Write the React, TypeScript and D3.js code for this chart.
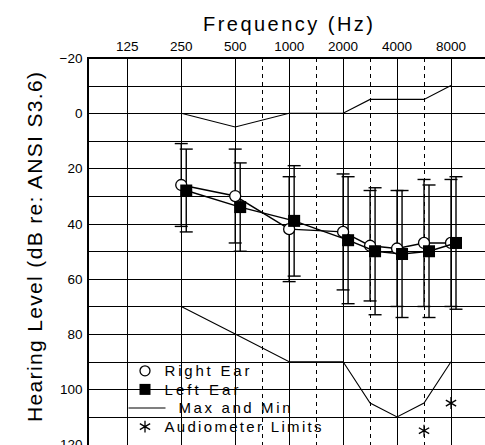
import React, { useEffect, useRef } from 'react';
import * as d3 from 'd3';

// audiogram data (dB HL)
const frequencies = [250, 500, 1000, 2000, 3000, 4000, 6000, 8000];
const rightEar = [26, 30, 42, 43, 48, 49, 47, 47];
const rightTop = [11, 13, 23, 22, 28, 28, 24, 24];
const rightBottom = [41, 47, 61, 64, 68, 70, 70, 70];
const leftEar = [28, 34, 39, 46, 50, 51, 50, 47];
const leftTop = [13, 18, 19, 23, 27, 28, 26, 23];
const leftBottom = [43, 50, 59, 69, 73, 74, 74, 71];
const maxLevels = [0, 5, 0, 0, -5, -5, -5, -10];
const minLevels = [70, 80, 90, 90, 105, 110, 105, 90];
const limitFreqs = [6000, 8000];
const limitLevels = [115, 105];

const octaveTicks = [125, 250, 500, 1000, 2000, 4000, 8000];
const halfOctaveTicks = [750, 1500, 3000, 6000];
const levelTicks = [-20, 0, 20, 40, 60, 80, 100, 120];
const legendLabels = ['Right Ear', 'Left Ear', 'Max and Min', 'Audiometer Limits'];

const width = 485;
const height = 445;
const font = '"Liberation Sans", Arial, sans-serif';

export default function App() {
  const ref = useRef<SVGSVGElement>(null);

  useEffect(() => {
    const svg = d3.select(ref.current);
    svg.selectAll('*').remove();

    // position in octaves above 125 Hz, half octaves sit midway
    const octave = (f: number) => Math.round(2 * Math.log2(f / 125)) / 2;
    const x = d3.scaleLinear().domain([0, 6]).range([127.3, 451]);
    const fx = (f: number) => x(octave(f));
    const y = d3.scaleLinear().domain([-20, 120]).range([58, 444.5]);

    const left = 88;
    const right = 492;
    const top = y(-20);
    const bottom = height + 2;
    const offset = 5; // left ear drawn a bit to the right

    svg.append('rect').attr('width', width).attr('height', height).attr('fill', '#fff');

    const grid = svg.append('g').attr('stroke', '#000').attr('fill', 'none');

    // horizontal grid every 10 dB
    grid
      .selectAll('line.h')
      .data(d3.range(-10, 121, 10))
      .join('line')
      .attr('x1', left)
      .attr('x2', right)
      .attr('y1', d => Math.round(y(d)) + 0.5)
      .attr('y2', d => Math.round(y(d)) + 0.5)
      .attr('stroke-width', 1);

    grid
      .selectAll('line.v')
      .data(octaveTicks)
      .join('line')
      .attr('x1', d => Math.round(fx(d)) + 0.5)
      .attr('x2', d => Math.round(fx(d)) + 0.5)
      .attr('y1', top)
      .attr('y2', bottom)
      .attr('stroke-width', 1);

    grid
      .selectAll('line.d')
      .data(halfOctaveTicks)
      .join('line')
      .attr('x1', d => Math.round(fx(d)) + 0.5)
      .attr('x2', d => Math.round(fx(d)) + 0.5)
      .attr('y1', top)
      .attr('y2', bottom)
      .attr('stroke-width', 1)
      .attr('stroke-dasharray', '4,4');

    // frame
    grid.append('line').attr('x1', left).attr('x2', right).attr('y1', top).attr('y2', top).attr('stroke-width', 2);
    grid.append('line').attr('x1', left).attr('x2', left).attr('y1', top - 1).attr('y2', bottom).attr('stroke-width', 2);

    // tick labels
    svg
      .append('g')
      .selectAll('text')
      .data(octaveTicks)
      .join('text')
      .attr('x', d => fx(d))
      .attr('y', 50.5)
      .attr('text-anchor', 'middle')
      .attr('font-family', font)
      .attr('font-size', 13.5)
      .text(d => d);

    svg
      .append('g')
      .selectAll('text')
      .data(levelTicks)
      .join('text')
      .attr('x', 82.5)
      .attr('y', d => y(d))
      .attr('dy', '0.36em')
      .attr('text-anchor', 'end')
      .attr('font-family', font)
      .attr('font-size', 13.5)
      .text(d => (d < 0 ? '\u2212' + Math.abs(d) : d));

    // titles
    svg
      .append('text')
      .attr('x', 203)
      .attr('y', 30.7)
      .attr('font-family', font)
      .attr('font-size', 20)
      .attr('textLength', 170)
      .attr('lengthAdjust', 'spacing')
      .text('Frequency (Hz)');

    svg
      .append('text')
      .attr('transform', 'translate(41.5,422) rotate(-90)')
      .attr('font-family', font)
      .attr('font-size', 21)
      .attr('textLength', 350)
      .attr('lengthAdjust', 'spacing')
      .text('Hearing Level (dB re: ANSI S3.6)');

    // max and min
    const line = d3
      .line<number>()
      .x((d, i) => fx(frequencies[i]))
      .y(d => y(d));
    svg.append('path').datum(maxLevels).attr('d', line).attr('fill', 'none').attr('stroke', '#000').attr('stroke-width', 1.1);
    svg.append('path').datum(minLevels).attr('d', line).attr('fill', 'none').attr('stroke', '#000').attr('stroke-width', 1.1);

    // error bars
    const bars = (tops: number[], bottoms: number[], dx: number) => {
      const g = svg.append('g').attr('stroke', '#000').attr('stroke-width', 1.4);
      frequencies.forEach((f, i) => {
        const cx = fx(f) + dx;
        g.append('line').attr('x1', cx).attr('x2', cx).attr('y1', y(tops[i])).attr('y2', y(bottoms[i]));
        g.append('line').attr('x1', cx - 6.5).attr('x2', cx + 6.5).attr('y1', y(tops[i])).attr('y2', y(tops[i]));
        g.append('line').attr('x1', cx - 6.5).attr('x2', cx + 6.5).attr('y1', y(bottoms[i])).attr('y2', y(bottoms[i]));
      });
    };
    bars(rightTop, rightBottom, 0);
    bars(leftTop, leftBottom, offset);

    // right ear
    svg
      .append('path')
      .datum(rightEar)
      .attr('d', line)
      .attr('fill', 'none')
      .attr('stroke', '#000')
      .attr('stroke-width', 1.4);
    svg
      .append('g')
      .selectAll('circle')
      .data(rightEar)
      .join('circle')
      .attr('cx', (d, i) => fx(frequencies[i]))
      .attr('cy', d => y(d))
      .attr('r', 5.5)
      .attr('fill', '#fff')
      .attr('stroke', '#000')
      .attr('stroke-width', 1.3);

    // left ear
    const leftLine = d3
      .line<number>()
      .x((d, i) => fx(frequencies[i]) + offset)
      .y(d => y(d));
    svg
      .append('path')
      .datum(leftEar)
      .attr('d', leftLine)
      .attr('fill', 'none')
      .attr('stroke', '#000')
      .attr('stroke-width', 1.4);
    svg
      .append('g')
      .selectAll('rect')
      .data(leftEar)
      .join('rect')
      .attr('x', (d, i) => fx(frequencies[i]) + offset - 6)
      .attr('y', d => y(d) - 6)
      .attr('width', 12)
      .attr('height', 12)
      .attr('fill', '#000');

    // audiometer limits
    const star = d3.symbol().type(d3.symbolAsterisk).size(100);
    svg
      .append('g')
      .selectAll('path')
      .data(limitLevels)
      .join('path')
      .attr('transform', (d, i) => `translate(${fx(limitFreqs[i])},${y(d)})`)
      .attr('d', star)
      .attr('fill', 'none')
      .attr('stroke', '#000')
      .attr('stroke-width', 1.3);

    // legend
    const lg = svg.append('g');
    const lx = 145;
    const rowY = (i: number) => 370.8 + i * 18.6;
    lg.append('circle').attr('cx', lx).attr('cy', rowY(0)).attr('r', 5).attr('fill', '#fff').attr('stroke', '#000').attr('stroke-width', 1.3);
    lg.append('rect').attr('x', lx - 5.5).attr('y', rowY(1) - 5.5).attr('width', 11).attr('height', 11).attr('fill', '#000');
    lg.append('line').attr('x1', 128.5).attr('x2', 165.5).attr('y1', rowY(2)).attr('y2', rowY(2)).attr('stroke', '#000').attr('stroke-width', 1.1);
    lg.append('path').attr('transform', `translate(${lx},${rowY(3)})`).attr('d', star).attr('fill', 'none').attr('stroke', '#000').attr('stroke-width', 1.3);

    const textX = [164.5, 164.5, 178.5, 164.5];
    const textW = [85, 74, 112, 157];
    lg.selectAll('text')
      .data(legendLabels)
      .join('text')
      .attr('x', (d, i) => textX[i])
      .attr('y', (d, i) => rowY(i) + 5.3)
      .attr('font-family', font)
      .attr('font-size', 15)
      .attr('textLength', (d, i) => textW[i])
      .attr('lengthAdjust', 'spacing')
      .text(d => d);
  }, []);

  return (
    <svg
      ref={ref}
      width={width}
      height={height}
      style={{ position: 'absolute', left: 0, top: 0, display: 'block' }}
    />
  );
}
